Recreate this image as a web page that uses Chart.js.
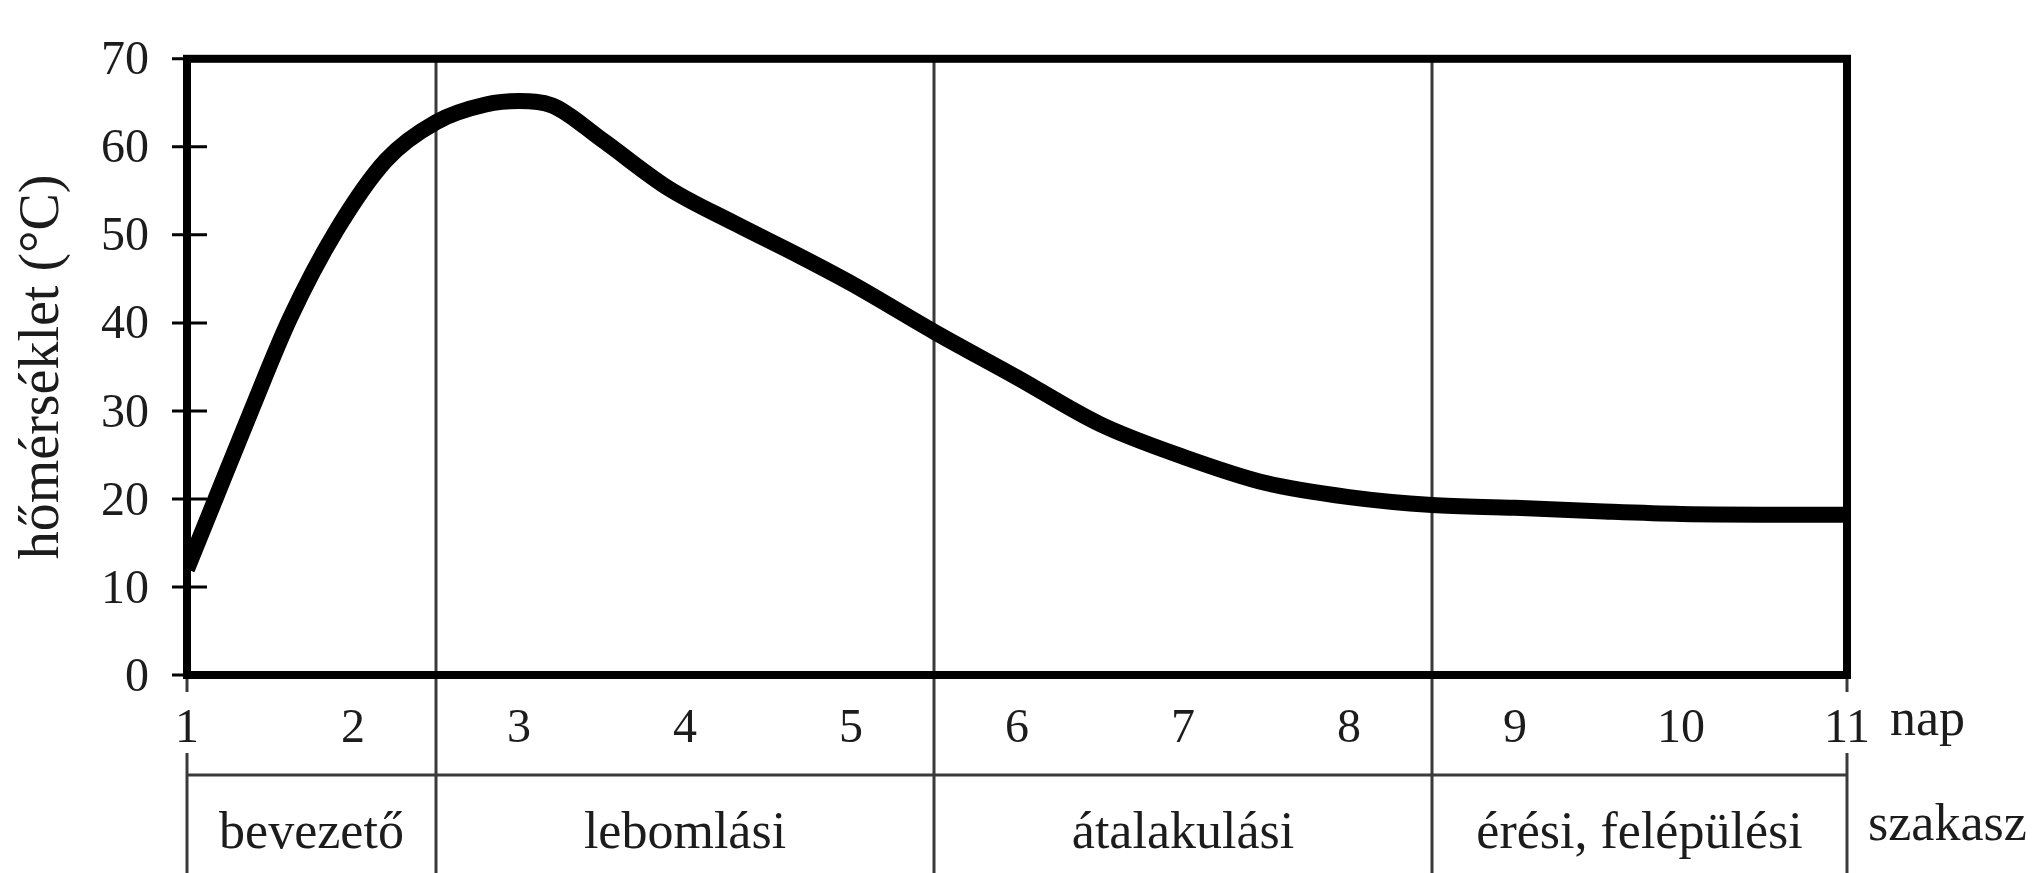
<!DOCTYPE html>
<html lang="hu">
<head>
<meta charset="utf-8">
<title>Komposztálás – hőmérséklet</title>
<script src="https://cdn.jsdelivr.net/npm/chart.js@4/dist/chart.umd.min.js"></script>
<style>
  html, body { margin: 0; padding: 0; background: #fff; }
  #wrap { width: 2039px; height: 873px; }
</style>
</head>
<body>
<div id="wrap"><canvas id="tempChart"></canvas></div>
<script>
// ── DATA ─────────────────────────────────────────────────────
const DAYS  = [1, 1.15, 1.38, 1.62, 1.9, 2.2, 2.5, 2.8, 3.0, 3.2, 3.5, 3.9, 4.3, 4.7, 5.0, 5.5, 6.0, 6.5, 7.0, 7.5, 8.0, 8.5, 9.0, 9.5, 10.0, 11.0];
const TEMPS = [12, 19, 29.7, 40.5, 50.5, 58.5, 62.8, 64.8, 65.2, 64.7, 60.8, 55.3, 51.3, 47.5, 44.5, 39, 33.8, 28.5, 24.8, 21.8, 20.2, 19.3, 19.0, 18.6, 18.3, 18.2];

const DAY_TICKS  = [1, 2, 3, 4, 5, 6, 7, 8, 9, 10, 11];
const TEMP_TICKS = [0, 10, 20, 30, 40, 50, 60, 70];

const PHASE_NAMES  = ['bevezető', 'lebomlási', 'átalakulási', 'érési, felépülési'];
const PHASE_BOUNDS = [1, 2.5, 5.5, 8.5, 11];
const PHASE_MID    = PHASE_NAMES.map((_, i) => (PHASE_BOUNDS[i] + PHASE_BOUNDS[i + 1]) / 2);

const INK   = '#1c1c1c';
const SERIF = "'Liberation Serif', 'Times New Roman', serif";

// ── FRAME, DIVIDERS, PHASE TABLE ─────────────────────────────
function seg(ctx, x1, y1, x2, y2) {
  ctx.beginPath();
  ctx.moveTo(x1, y1);
  ctx.lineTo(x2, y2);
  ctx.stroke();
}

const framePlugin = {
  id: 'frame',
  beforeDatasetsDraw(chart) {
    const { ctx, chartArea: a, scales: { x, phase } } = chart;
    ctx.save();
    ctx.strokeStyle = '#3a3a3a';
    ctx.lineWidth = 3;
    // phase boundaries run through the whole figure
    PHASE_BOUNDS.slice(1, -1).forEach(b => {
      const px = x.getPixelForValue(b);
      seg(ctx, px, a.top, px, chart.height);
    });
    // table: top rule and outer edges
    const rowTop = phase.top + 25;
    seg(ctx, a.left, rowTop, a.right, rowTop);
    [a.left, a.right].forEach(px => {
      seg(ctx, px, a.bottom, px, a.bottom + 17);
      seg(ctx, px, phase.top + 3, px, chart.height);
    });
    ctx.restore();
  },
  afterDatasetsDraw(chart) {
    const { ctx, chartArea: a, scales: { x, y, phase } } = chart;
    ctx.save();
    ctx.strokeStyle = '#000';
    ctx.lineWidth = 8;
    ctx.strokeRect(a.left, a.top, a.right - a.left, a.bottom - a.top);

    // y tick marks crossing the axis
    ctx.lineWidth = 3;
    TEMP_TICKS.forEach(v => {
      const py = y.getPixelForValue(v);
      seg(ctx, a.left - 15, py, a.left + 20, py);
    });

    // unit labels to the right of the axis rows
    ctx.fillStyle = INK;
    ctx.textAlign = 'left';
    ctx.textBaseline = 'middle';
    ctx.font = `52px ${SERIF}`;
    ctx.fillText('nap', x.right + 43, x.top + 18 + 48 * 1.2 / 2);
    ctx.fillText('szakasz', x.right + 21, phase.top + 45 + 52 * 1.2 / 2);
    ctx.restore();
  }
};

// ── CHART ────────────────────────────────────────────────────
const ctx = document.getElementById('tempChart').getContext('2d');

new Chart(ctx, {
  type: 'line',
  data: {
    datasets: [{
      label: 'hőmérséklet',
      data: DAYS.map((d, i) => ({ x: d, y: TEMPS[i] })),
      borderColor: '#000',
      borderWidth: 16,
      pointRadius: 0,
      cubicInterpolationMode: 'monotone',
      fill: false,
    }]
  },
  options: {
    responsive: true,
    maintainAspectRatio: false,
    animation: false,
    events: [],
    layout: { padding: { top: 33, right: 192, bottom: 0, left: 0 } },
    plugins: {
      legend: { display: false },
      tooltip: { enabled: false }
    },
    scales: {
      x: {
        type: 'linear',
        min: 1, max: 11,
        afterBuildTicks: s => { s.ticks = DAY_TICKS.map(v => ({ value: v })); },
        afterFit: s => { s.height = 75; },
        grid: { display: false },
        border: { display: false },
        ticks: { font: { family: SERIF, size: 48 }, color: INK, padding: 18, maxRotation: 0, autoSkip: false }
      },
      phase: {
        type: 'linear',
        position: 'bottom',
        weight: 1,
        min: 1, max: 11,
        afterBuildTicks: s => { s.ticks = PHASE_MID.map(v => ({ value: v })); },
        afterFit: s => { s.height = 123; },
        grid: { display: false },
        border: { display: false },
        ticks: {
          font: { family: SERIF, size: 52 }, color: INK, padding: 45, maxRotation: 0, autoSkip: false,
          callback: (v, i) => PHASE_NAMES[i]
        }
      },
      y: {
        min: 0, max: 70,
        afterBuildTicks: s => { s.ticks = TEMP_TICKS.map(v => ({ value: v })); },
        afterFit: s => { s.width = 187; },
        grid: { display: false },
        border: { display: false },
        ticks: { font: { family: SERIF, size: 48 }, color: INK, padding: 30, labelOffset: 3 },
        title: {
          display: true,
          text: 'hőmérséklet (°C)',
          font: { family: SERIF, size: 56 },
          color: INK,
          padding: { top: 10, bottom: 0 }
        }
      }
    }
  },
  plugins: [framePlugin]
});
</script>
</body>
</html>
